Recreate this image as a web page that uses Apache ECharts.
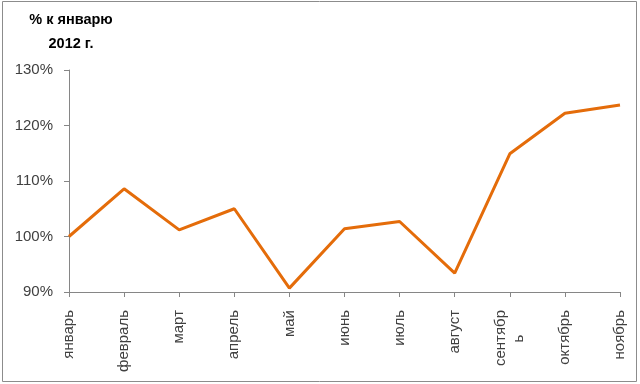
<!DOCTYPE html>
<html><head><meta charset="utf-8">
<script src="https://cdn.jsdelivr.net/npm/echarts@6/dist/echarts.min.js"></script>
<style>html,body{margin:0;padding:0;background:#fff}#c{width:640px;height:384px}</style>
</head><body><div id="c"></div>
<script>
const categories = ['январь','февраль','март','апрель','май','июнь','июль','август','сентябрь','октябрь','ноябрь'];
const values = [100.0, 108.6, 101.2, 105.0, 90.7, 101.4, 102.7, 93.4, 114.9, 122.2, 123.7];
const yTicks = [90, 100, 110, 120, 130];
const titleLines = ['% к январю', '2012 г.'];

const LABEL_FONT = 15;
const WRAP_AT = 7;
function textWidth(t, size) {
  const ctx = document.createElement('canvas').getContext('2d');
  ctx.font = size + 'px "Liberation Sans"';
  return Math.ceil(ctx.measureText(t).width);
}

const chart = echarts.init(document.getElementById('c'), null, {renderer:'canvas'});
chart.setOption({
  animation: false,
  backgroundColor: '#fff',
  title: {
    text: titleLines.join('\n'),
    left: 66, top: 3, textAlign: 'center',
    textStyle: {fontFamily: 'Liberation Sans', fontWeight: 'bold', fontSize: 14.5, color: '#000', lineHeight: 24, align: 'center'}
  },
  graphic: [{
    type: 'rect', shape: {x: 2.5, y: 1.5, width: 634, height: 380},
    style: {fill: 'none', stroke: '#8c8c8c', lineWidth: 1}, silent: true, z: -1
  }],
  grid: {left: 69, right: 20, top: 70, bottom: 92},
  xAxis: {
    type: 'category', data: categories, boundaryGap: false,
    axisLine: {lineStyle: {color: '#868686', width: 1}},
    axisTick: {alignWithLabel: true, length: 5, lineStyle: {color: '#868686'}},
    axisLabel: {
      rotate: 90, margin: 18, interval: 0, color: '#404040',
      fontFamily: 'Liberation Sans', fontSize: LABEL_FONT, lineHeight: 18,
      formatter: function (v) {
        if (v.length > WRAP_AT) return '{a|' + v.slice(0, WRAP_AT) + '}\n{b|' + v.slice(WRAP_AT) + '}';
        return v;
      },
      rich: {
        a: {fontFamily: 'Liberation Sans', fontSize: LABEL_FONT, color: '#404040', lineHeight: 18},
        b: {fontFamily: 'Liberation Sans', fontSize: LABEL_FONT, color: '#404040', lineHeight: 18,
            width: textWidth('сентябр', LABEL_FONT), align: 'center'}
      }
    },
    splitLine: {show: false}
  },
  yAxis: {
    type: 'value', min: yTicks[0], max: yTicks[yTicks.length - 1], interval: 10,
    axisLine: {show: true, lineStyle: {color: '#868686', width: 1}},
    axisTick: {show: true, length: 5, lineStyle: {color: '#868686'}},
    splitLine: {show: false},
    axisLabel: {
      margin: 16, color: '#404040', fontFamily: 'Liberation Sans', fontSize: 15,
      formatter: function (v) { return v + '%'; }
    }
  },
  series: [{
    type: 'line', data: values, showSymbol: false, symbol: 'none',
    lineStyle: {color: '#E46C0A', width: 3}, itemStyle: {color: '#E46C0A'}
  }]
});
</script></body></html>
